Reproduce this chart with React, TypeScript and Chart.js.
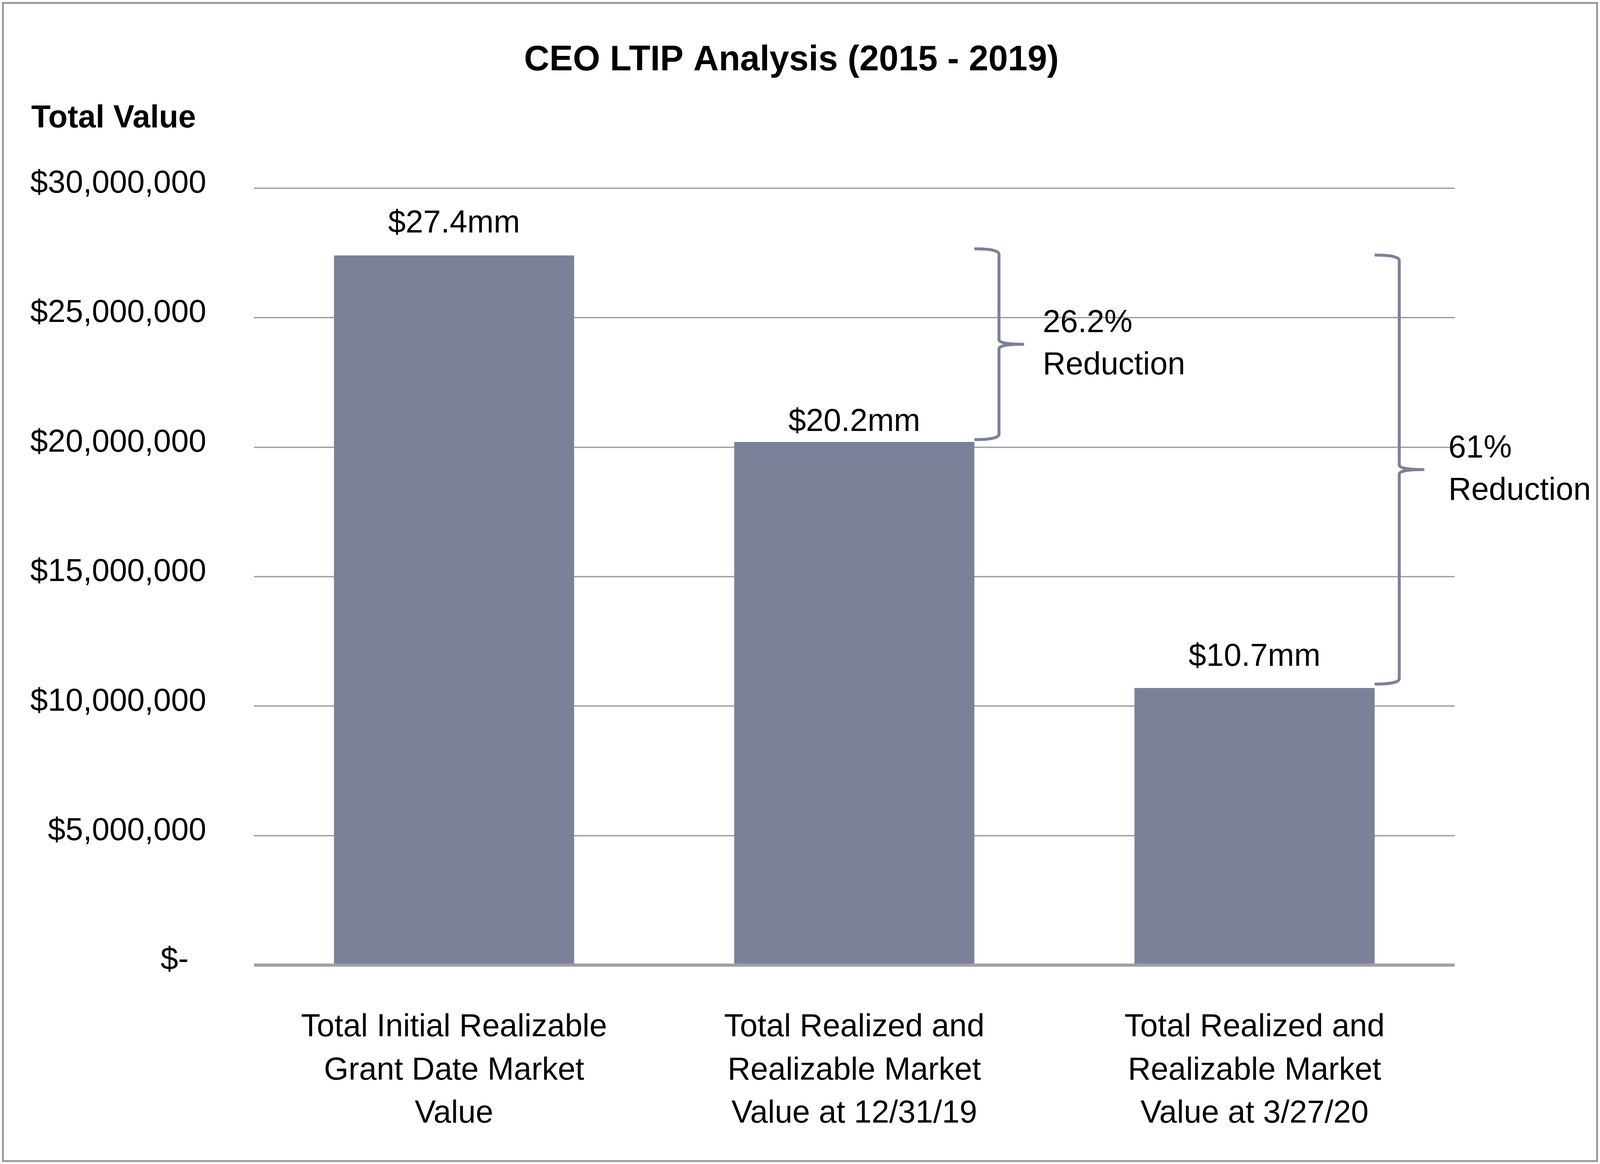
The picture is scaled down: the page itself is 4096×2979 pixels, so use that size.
import React, { useEffect, useRef } from 'react';
import { Chart, registerables } from 'chart.js';

Chart.register(...registerables);

// ---------- data ----------
const chartTitle = 'CEO LTIP Analysis (2015 - 2019)';
const yAxisTitle = 'Total Value';
const categories: string[][] = [
  ['Total Initial Realizable', 'Grant Date Market', 'Value'],
  ['Total Realized and', 'Realizable Market', 'Value at 12/31/19'],
  ['Total Realized and', 'Realizable Market', 'Value at 3/27/20'],
];
const totalValues = [27400000, 20200000, 10700000];
const valueLabels = ['$27.4mm', '$20.2mm', '$10.7mm'];
const yTickValues = [0, 5000000, 10000000, 15000000, 20000000, 25000000, 30000000];
const yTickLabels = ['$-  ', '$5,000,000', '$10,000,000', '$15,000,000', '$20,000,000', '$25,000,000', '$30,000,000'];
const reductionFromBar = [0, 0];
const reductionToBar = [1, 2];
const reductionLabels = [['26.2%', 'Reduction'], ['61%', 'Reduction']];

// ---------- style ----------
const W = 4096;
const H = 2979;
const FONT = '"Liberation Sans", Arial, Helvetica, sans-serif';
const BAR_COLOR = '#7A8198';
const GRID_COLOR = '#A0A0A4';
const BORDER_COLOR = '#9C9C9C';
const CHART_LEFT = 650;
const CHART_RIGHT = 3724;
const CHART_TOP = 481.5;
const CHART_BOTTOM = 2470;
const labelBaselineGap = [59, 28, 57];
const bracketTopGap = [17, 1];
const bracketBottomGap = [6, 10];
const bracketTextDx = [51, 65];

const decorPlugin = {
  id: 'ltipDecor',
  beforeDraw(chart: any) {
    const ctx = chart.ctx;
    ctx.save();
    ctx.fillStyle = '#ffffff';
    ctx.fillRect(0, 0, W, H);
    ctx.strokeStyle = BORDER_COLOR;
    ctx.lineWidth = 5;
    ctx.strokeRect(7.5, 7.5, W - 15, H - 15);
    ctx.fillStyle = '#000000';
    ctx.textBaseline = 'alphabetic';
    ctx.font = `bold 90px ${FONT}`;
    ctx.textAlign = 'center';
    ctx.fillText(chartTitle, 2026, 180);
    ctx.font = `bold 81px ${FONT}`;
    ctx.textAlign = 'left';
    ctx.fillText(yAxisTitle, 80, 326);
    ctx.restore();
  },
  afterDatasetsDraw(chart: any) {
    const ctx = chart.ctx;
    const yScale = chart.scales.y;
    const area = chart.chartArea;
    const bars = chart.getDatasetMeta(0).data;
    ctx.save();
    // baseline
    const y0 = yScale.getPixelForValue(0);
    ctx.strokeStyle = GRID_COLOR;
    ctx.lineWidth = 8;
    ctx.beginPath();
    ctx.moveTo(area.left, y0);
    ctx.lineTo(area.right, y0);
    ctx.stroke();

    // value labels
    ctx.fillStyle = '#000000';
    ctx.font = `81px ${FONT}`;
    ctx.textAlign = 'center';
    ctx.textBaseline = 'alphabetic';
    bars.forEach((bar: any, i: number) => {
      const top = yScale.getPixelForValue(totalValues[i]);
      ctx.fillText(valueLabels[i], bar.x, top - labelBaselineGap[i]);
    });

    // brackets
    ctx.strokeStyle = BAR_COLOR;
    ctx.lineWidth = 7.5;
    ctx.lineCap = 'butt';
    ctx.lineJoin = 'round';
    reductionToBar.forEach((toIdx, k) => {
      const fromIdx = reductionFromBar[k];
      const bar: any = bars[toIdx];
      const leftX = bar.x + bar.width / 2;
      const top = yScale.getPixelForValue(totalValues[fromIdx]) - bracketTopGap[k];
      const bottom = yScale.getPixelForValue(totalValues[toIdx]) - bracketBottomGap[k];
      const spineX = leftX + 63;
      const tipX = spineX + 61;
      const mid = (top + bottom) / 2;
      ctx.beginPath();
      ctx.moveTo(leftX, top);
      ctx.quadraticCurveTo(spineX, top, spineX, top + 14);
      ctx.lineTo(spineX, mid - 12);
      ctx.quadraticCurveTo(spineX, mid, tipX, mid);
      ctx.quadraticCurveTo(spineX, mid, spineX, mid + 12);
      ctx.lineTo(spineX, bottom - 14);
      ctx.quadraticCurveTo(spineX, bottom, leftX, bottom);
      ctx.stroke();

      ctx.fillStyle = '#000000';
      ctx.textAlign = 'left';
      const lines = reductionLabels[k];
      lines.forEach((line, j) => {
        ctx.fillText(line, tipX + bracketTextDx[k], mid - 31 + j * 108);
      });
    });
    ctx.restore();
  },
};

export default function App() {
  const canvasRef = useRef<HTMLCanvasElement | null>(null);

  useEffect(() => {
    const canvas = canvasRef.current;
    if (!canvas) return;
    Chart.defaults.font.family = FONT;
    const chart = new Chart(canvas, {
      type: 'bar',
      data: {
        labels: categories,
        datasets: [
          {
            data: totalValues,
            backgroundColor: BAR_COLOR,
            borderWidth: 0,
            barPercentage: 0.6,
            categoryPercentage: 1,
          },
        ],
      },
      options: {
        responsive: false,
        animation: false,
        devicePixelRatio: 1,
        layout: {
          padding: { top: CHART_TOP, right: W - CHART_RIGHT, bottom: 0, left: 0 },
        },
        plugins: {
          legend: { display: false },
          title: { display: false },
          tooltip: { enabled: false },
        },
        scales: {
          x: {
            grid: { display: false, drawTicks: false, tickLength: 0 },
            border: { display: false },
            ticks: {
              color: '#000000',
              font: { family: FONT, size: 81, lineHeight: 1.36 },
              padding: 105,
              maxRotation: 0,
              minRotation: 0,
              autoSkip: false,
            },
            afterFit: (scale: any) => {
              scale.height = H - CHART_BOTTOM;
            },
          },
          y: {
            min: 0,
            max: 30000000,
            grid: {
              color: GRID_COLOR,
              lineWidth: 3.5,
              drawTicks: false,
              tickLength: 0,
            },
            border: { display: false },
            ticks: {
              stepSize: 5000000,
              color: '#000000',
              font: { family: FONT, size: 81 },
              padding: 122,
              labelOffset: -11,
              callback: (value: any) => {
                const idx = yTickValues.indexOf(Number(value));
                return idx >= 0 ? yTickLabels[idx] : '';
              },
            },
            afterFit: (scale: any) => {
              scale.width = CHART_LEFT;
            },
          },
        },
      },
      plugins: [decorPlugin],
    });
    return () => {
      chart.destroy();
    };
  }, []);

  return (
    <div style={{ position: 'fixed', left: 0, top: 0, width: W, height: H, background: '#fff' }}>
      <canvas ref={canvasRef} width={W} height={H} style={{ width: W, height: H, display: 'block' }} />
    </div>
  );
}
